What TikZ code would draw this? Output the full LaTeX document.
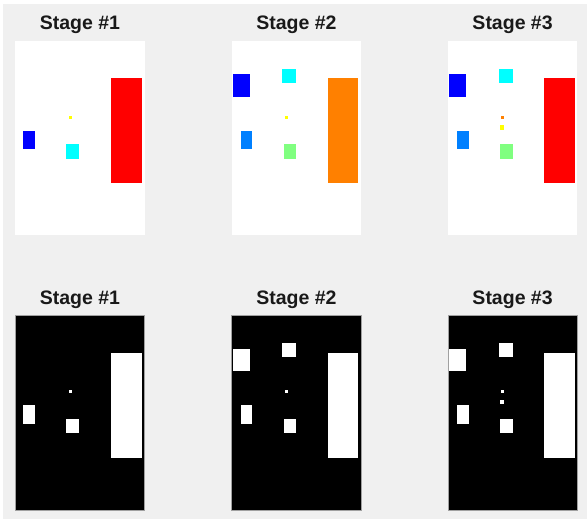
\documentclass[tikz,border=0pt]{standalone}
\usepackage{fontspec}
\setmainfont{Liberation Sans}
\definecolor{bg}{HTML}{F0F0F0}
\definecolor{mblue}{HTML}{0000FF}
\definecolor{mcyan}{HTML}{00FFFF}
\definecolor{mred}{HTML}{FF0000}
\definecolor{morange}{HTML}{FF8000}
\definecolor{mlblue}{HTML}{0080FF}
\definecolor{mgreen}{HTML}{80FF80}
\definecolor{myellow}{HTML}{FFFF00}
\definecolor{frame}{HTML}{A0A0A0}
\tikzset{
  ttl/.style={anchor=base, inner sep=0pt, font=\fontsize{19.5}{21}\selectfont\bfseries, text=black!90},
  imgwhite/.style={fill=white},
  imgblack/.style={fill=black, draw=frame, line width=0.8pt},
}
\begin{document}
\begin{tikzpicture}[x=1pt,y=-1pt]
\useasboundingbox (0,0) rectangle (587,519);
\fill[white] (0,0) rectangle (587,519);
\fill[bg] (3,4) rectangle (587,519);
% ---------- top row ----------
% panel 1
\begin{scope}[shift={(15.3,41)}]
  \fill[imgwhite] (0,0) rectangle (129.3,194.3);
  \fill[mred] (96,37.3) rectangle (127,142.3);
  \fill[mblue] (8,89.7) rectangle (19.4,108);
  \fill[mcyan] (51,103.3) rectangle (63.4,117.7);
  \fill[myellow] (53.7,74.7) rectangle (56.4,77.7);
\end{scope}
\node[ttl] (t1) at (80,30) {Stage \#1};
% panel 2
\begin{scope}[shift={(231.7,41)}]
  \fill[imgwhite] (0,0) rectangle (129.3,194.3);
  \fill[morange] (96.3,37.3) rectangle (126.6,142.3);
  \fill[mblue] (1,33) rectangle (18,55.7);
  \fill[mcyan] (50.6,27.7) rectangle (64.6,41.7);
  \fill[mlblue] (9.3,89.7) rectangle (20.6,108);
  \fill[mgreen] (52,103.3) rectangle (64.6,117.7);
  \fill[myellow] (53.6,74.7) rectangle (56.3,77.7);
\end{scope}
\node[ttl] (t2) at (296.4,30) {Stage \#2};
% panel 3
\begin{scope}[shift={(448,41)}]
  \fill[imgwhite] (0,0) rectangle (129.3,194.3);
  \fill[mred] (96,37.3) rectangle (126.7,142.3);
  \fill[mblue] (1,33) rectangle (17.7,55.7);
  \fill[mcyan] (50.7,27.7) rectangle (64.7,41.7);
  \fill[mlblue] (9.3,89.7) rectangle (20.7,108);
  \fill[mgreen] (52,103.3) rectangle (64.7,117.7);
  \fill[morange] (53.3,74.7) rectangle (56.3,77.7);
  \fill[myellow] (52,84.3) rectangle (56.3,88.7);
\end{scope}
\node[ttl] (t3) at (512.6,30) {Stage \#3};
% ---------- bottom row ----------
\begin{scope}[shift={(15.3,315.7)}]
  \filldraw[imgblack] (0,0) rectangle (129.3,194.3);
  \fill[white] (96,37.3) rectangle (127,142.3);
  \fill[white] (8,89.7) rectangle (19.4,108);
  \fill[white] (51,103.3) rectangle (63.4,117.7);
  \fill[white] (53.7,74.7) rectangle (56.4,77.7);
\end{scope}
\node[ttl] (b1) at (80,304.7) {Stage \#1};
\begin{scope}[shift={(231.7,315.7)}]
  \filldraw[imgblack] (0,0) rectangle (129.3,194.3);
  \fill[white] (96.3,37.3) rectangle (126.6,142.3);
  \fill[white] (1,33) rectangle (18,55.7);
  \fill[white] (50.6,27.7) rectangle (64.6,41.7);
  \fill[white] (9.3,89.7) rectangle (20.6,108);
  \fill[white] (52,103.3) rectangle (64.6,117.7);
  \fill[white] (53.6,74.7) rectangle (56.3,77.7);
\end{scope}
\node[ttl] (b2) at (296.4,304.7) {Stage \#2};
\begin{scope}[shift={(448,315.7)}]
  \filldraw[imgblack] (0,0) rectangle (129.3,194.3);
  \fill[white] (96,37.3) rectangle (126.7,142.3);
  \fill[white] (1,33) rectangle (17.7,55.7);
  \fill[white] (50.7,27.7) rectangle (64.7,41.7);
  \fill[white] (9.3,89.7) rectangle (20.7,108);
  \fill[white] (52,103.3) rectangle (64.7,117.7);
  \fill[white] (53.3,74.7) rectangle (56.3,77.7);
  \fill[white] (52,84.3) rectangle (56.3,88.7);
\end{scope}
\node[ttl] (b3) at (512.6,304.7) {Stage \#3};
\end{tikzpicture}
\end{document}
